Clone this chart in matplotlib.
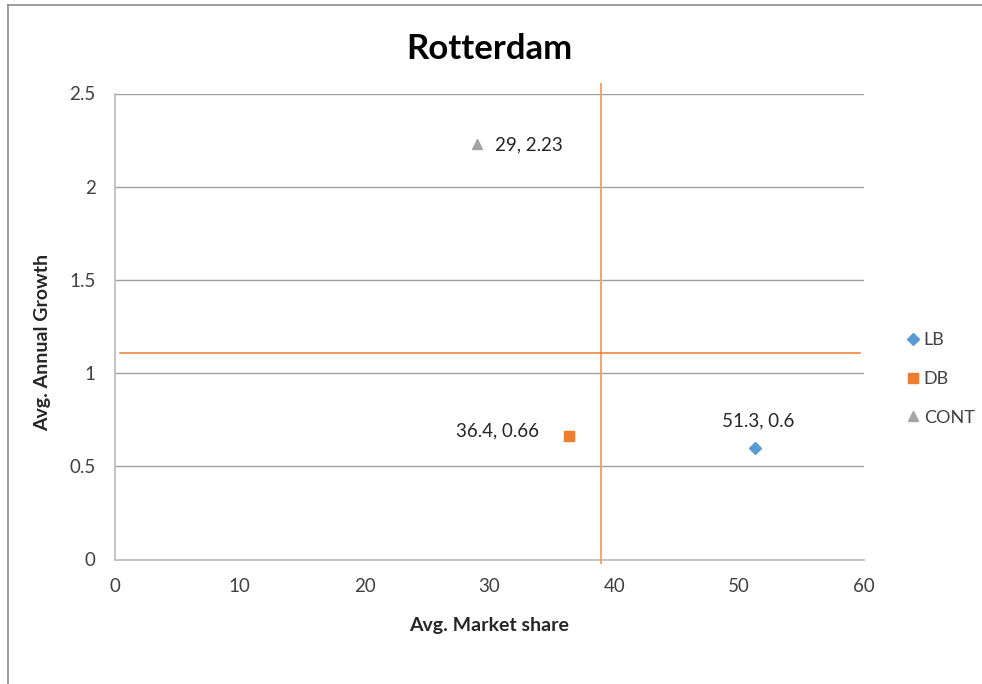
import matplotlib
matplotlib.use('Agg')
import matplotlib.pyplot as plt
from matplotlib.lines import Line2D

plt.rcParams['font.family'] = ['Lato', 'DejaVu Sans']

# segment positions (avg market share, avg annual growth)
names = ['LB', 'DB', 'CONT']
share = [51.3, 36.4, 29]
growth = [0.6, 0.66, 2.23]
colors = ['#5b9bd5', '#ed7d31', '#a5a5a5']
markers = ['D', 's', '^']
marker_sizes = [6, 7, 7]

# quadrant split lines
split_x = 38.9
split_y = 1.106
split_x_span = [-0.02, 2.55]
split_y_span = [0.4, 59.7]

fig = plt.figure(figsize=(9.82, 6.84), dpi=100)
ax = fig.add_axes([115 / 982, 1 - 559.5 / 684, 749 / 982, 466 / 684])

# outer chart frame (top and left edge)
fig.add_artist(Line2D([8 / 982, 8 / 982], [0, 1 - 5 / 684], transform=fig.transFigure,
                      color='#8c8c8c', lw=1.2))
fig.add_artist(Line2D([8 / 982, 1], [1 - 5 / 684, 1 - 5 / 684], transform=fig.transFigure,
                      color='#8c8c8c', lw=1.2))

ax.set_xlim(0, 60)
ax.set_ylim(0, 2.5)
ax.set_xticks(range(0, 61, 10))
ax.set_yticks([0, 0.5, 1, 1.5, 2, 2.5])
ax.set_yticklabels(['0', '0.5', '1', '1.5', '2', '2.5'])
ax.tick_params(length=0, labelsize=13.5, colors='#404040')
ax.tick_params(axis='x', pad=13)
ax.tick_params(axis='y', pad=14)
ax.grid(axis='y', color='#a0a0a0', lw=1)
ax.set_axisbelow(True)
for side in ['top', 'right']:
    ax.spines[side].set_visible(False)
for side in ['left', 'bottom']:
    ax.spines[side].set_color('#bfbfbf')
    ax.spines[side].set_linewidth(1.3)

for n, x, y, c, m, s in zip(names, share, growth, colors, markers, marker_sizes):
    ax.plot([x], [y], linestyle='none', marker=m, color=c, markersize=s, label=n, zorder=4)

ax.plot([split_x, split_x], split_x_span, color='#f4a46a', lw=1.4, clip_on=False, zorder=3)
ax.plot(split_y_span, [split_y, split_y], color='#ed7d31', lw=1.1, clip_on=False, zorder=3)

# data labels
lab_kw = dict(fontsize=13.5, color='#262626')
ax.annotate('%g, %g' % (share[0], growth[0]), (share[0], growth[0]), xytext=(2, 19.5),
            textcoords='offset points', ha='center', va='center', **lab_kw)
ax.annotate('%g, %g' % (share[1], growth[1]), (share[1], growth[1]), xytext=(-22, 4),
            textcoords='offset points', ha='right', va='center', **lab_kw)
ax.annotate('%g, %g' % (share[2], growth[2]), (share[2], growth[2]), xytext=(13, -1),
            textcoords='offset points', ha='left', va='center', **lab_kw)

ax.set_title('Rotterdam', fontsize=25, fontweight='bold', pad=25)
ax.set_xlabel('Avg. Market share', fontsize=14, fontweight='bold', color='#262626', labelpad=16)
ax.set_ylabel('Avg. Annual Growth', fontsize=14, fontweight='bold', color='#262626')
ax.yaxis.set_label_coords(-0.085, 0.465)

leg = fig.legend(*ax.get_legend_handles_labels(), loc='center left',
                 bbox_to_anchor=(904 / 982, 1 - 379 / 684), frameon=False,
                 fontsize=13, handletextpad=0.1, labelspacing=1.25, handlelength=1.0,
                 borderpad=0, borderaxespad=0)
for t in leg.get_texts():
    t.set_color('#404040')

fig.savefig('out.png', dpi=100)
